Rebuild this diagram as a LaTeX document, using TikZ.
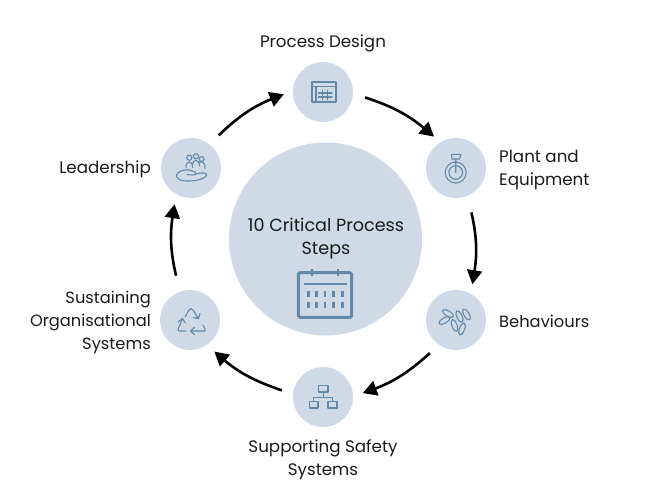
\documentclass[tikz,border=0pt]{standalone}
\usepackage{fontspec}
\setmainfont{Poppins}
\usetikzlibrary{arrows.meta}
\definecolor{disc}{HTML}{CFDAE6}
\definecolor{icon}{HTML}{6488A8}
\definecolor{ink}{HTML}{1A1A1A}
\tikzset{
  stepdisc/.style={circle,fill=disc,draw=none,minimum size=60pt,inner sep=0pt,outer sep=11pt},
  hubdisc/.style={circle,fill=disc,draw=none,minimum size=193pt,inner sep=0pt},
  lbl/.style={text=ink,font=\fontsize{16.7}{23}\selectfont,inner sep=0pt},
  narrowlbl/.style={text=ink,font=\fontsize{16.3}{23}\selectfont,inner sep=0pt},
  hublbl/.style={text=ink,font=\fontsize{17.6}{23}\selectfont,inner sep=0pt},
  arr/.style={draw=black,line width=2.6pt,bend left=11,-{Triangle[length=14pt,width=15pt]}},
  ico/.style={draw=icon,line width=1.1pt,line join=round,line cap=round,fill=none},
  bigico/.style={draw=icon,line width=3pt,line join=round,fill=none},
}
\begin{document}
\begin{tikzpicture}[x=1pt,y=-1pt]
\useasboundingbox (0,0) rectangle (645,495);
\node[hubdisc] (hub) at (325.5,239) {};
\node[stepdisc] (design) at (323,92) {};
\node[stepdisc] (plant) at (456,168) {};
\node[stepdisc] (behav) at (456,320) {};
\node[stepdisc] (safety) at (323,397) {};
\node[stepdisc] (org) at (190,320) {};
\node[stepdisc] (lead) at (191,168) {};
\draw[arr,shorten <=1.4pt,shorten >=-2.8pt] (design.-7.7) to (plant.126.5);
\draw[arr,shorten <=6pt,shorten >=-1.7pt] (plant.-70.5) to (behav.66.4);
\draw[arr,shorten <=1.2pt,shorten >=-1.1pt] (behav.-128) to (safety.6.2);
\draw[arr,shorten <=0.7pt,shorten >=-1.2pt] (safety.171.7) to (org.-52.9);
\draw[arr,shorten <=5.5pt,shorten >=-1.3pt] (org.108.8) to (lead.-114.9);
\draw[arr,shorten <=1.8pt,shorten >=-1.9pt] (lead.50.4) to (design.184.4);
\node[lbl,align=center] (t1) at (323,43.5) {Process Design};
\node[lbl,align=left,anchor=west] (t2) at (499,169.5) {Plant and\\Equipment};
\node[narrowlbl,anchor=west] (t3) at (499,321.5) {Behaviours};
\node[lbl,align=center] (t4) at (323,459.5) {Supporting Safety\\Systems};
\node[narrowlbl,align=right,anchor=east] (t5) at (151,322) {Sustaining\\Organisational\\Systems};
\node[lbl,anchor=east] (t6) at (151,169.5) {Leadership};
\node[hublbl,align=center] (t7) at (326,239) {10 Critical Process\\Steps};
% design icon
\draw[ico] (312,82) rectangle (336,102) (312,86.5)--(336,86.5) (316,86.5)--(316,102)
  (318.5,93)--(332,93) (318.5,97)--(332,97) (322.5,90)--(322.5,100) (327.5,90)--(327.5,100);
% plant icon
\draw[ico] (455.7,172.5) circle (10.5) (455.7,172.5) circle (6.8) (455.7,172.5)--(455.7,159)
  (451.5,154.3)--(461,154.3)--(459.5,159)--(452,159)--cycle;
% behaviours icon
\foreach \x/\y/\r in {448/313.5/-30,444.5/320.5/30,459.5/316.5/-65,466.5/314.5/-60,454.5/325.5/-70,462/329/70}
  \draw[ico,rotate around={\r:(\x,\y)}] (\x,\y) ellipse (6.3 and 2.6);
% network icon
\draw[ico] (318.7,385.5) rectangle (328,392) (309.7,401.5) rectangle (318,408) (328,401.5) rectangle (337,408)
  (323.3,392)--(323.3,397.5) (313.7,401.5)--(313.7,397.5)--(332.3,397.5)--(332.3,401.5);
% recycle icon
\draw[ico] (185,317) -- (189,310) .. controls (190,308) and (192,308) .. (193,310) -- (198,318)
  (193.5,317.5)--(198.5,318.5)--(200,313.5)
  (203,325) -- (205,329) .. controls (206,331) and (205,331.5) .. (203,331) -- (191,331)
  (194.5,327.5)--(190.5,331)--(194.5,334.5)
  (186,331) -- (180,331) .. controls (178,331) and (177.5,330) .. (178.5,328) -- (182.5,319)
  (178,322)--(182.5,318.5)--(185.5,323);
% leadership icon
\draw[ico] (189.3,157.7) circle (2.6) (196,156.3) circle (2.6) (201.7,159) circle (2.4);
\draw[ico] (186,167.5) .. controls (186,160) and (192.5,160) .. (192.5,167.5)
  (192.5,166) .. controls (192.5,158.5) and (199.5,158.5) .. (199.5,166)
  (199.5,162) .. controls (203,161) and (205.5,164) .. (205,168.5);
\draw[ico] (186,181) .. controls (180,181) and (176,178) .. (176.5,175.5)
  .. controls (177,172) and (183,169) .. (189,170)
  .. controls (193,171) and (197,172.5) .. (196,174) .. controls (195,175.5) and (190,175) .. (187,174.5)
  (196,174) .. controls (200,173) and (206,172) .. (206.5,174.5)
  .. controls (207,177) and (200,181.5) .. (186,181);
% calendar icon
\draw[bigico,rounded corners=1.5pt] (298.3,272.7) rectangle (351.7,317.3);
\draw[icon,line width=2.2pt] (304,284) -- (346.7,284) (311.7,269) -- (311.7,276) (337.7,269) -- (337.7,276);
\foreach \x in {308.3,316.7,325,333.3,342.3}
  \draw[icon,line width=2.6pt] (\x,290.7) -- (\x,297.3) (\x,301.7) -- (\x,308.3);
\end{tikzpicture}
\end{document}
